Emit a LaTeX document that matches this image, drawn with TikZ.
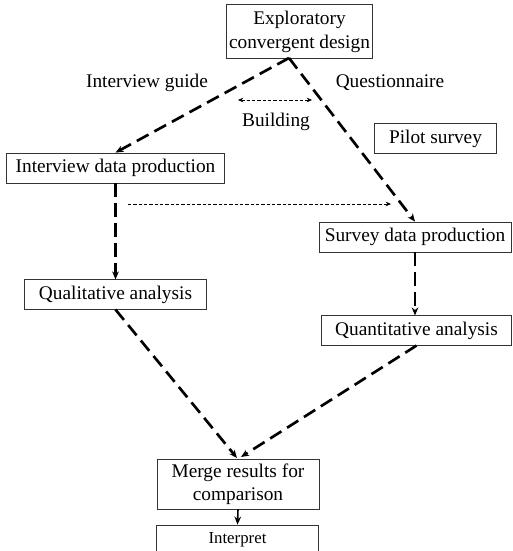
\documentclass[tikz,border=0pt]{standalone}
\usepackage{fontspec}
\setmainfont{Liberation Serif}
\usetikzlibrary{arrows.meta}

\tikzset{
  box/.style={draw=black!80,line width=0.6pt,align=center,inner sep=2pt},
  flow/.style={line width=2pt,dash pattern=on 10pt off 5pt,-{Stealth[length=6pt,width=5pt]}},
  link/.style={line width=0.6pt,dash pattern=on 2.5pt off 1.5pt},
}

\begin{document}
\begin{tikzpicture}[x=0.75pt,y=-0.75pt]
\useasboundingbox (0,0) rectangle (513,551);
\begin{scope}[every node/.style={box,font=\fontsize{14.5}{18}\selectfont}]
    \node (explore) at (299.5,31.5) [minimum width=110pt,minimum height=40pt] {Exploratory\\convergent design};
    \node (pilot) at (435.5,138.5) [minimum width=92pt,minimum height=22pt] {Pilot survey};
    \node (interview) at (115.5,168) [minimum width=163pt,minimum height=22.5pt] {Interview data production};
    \node (survey) at (415,237) [minimum width=144pt,minimum height=22.5pt] {Survey data production};
    \node (quali) at (115.5,294.5) [minimum width=136pt,minimum height=22pt] {Qualitative analysis};
    \node (quanti) at (416.5,330.5) [minimum width=143pt,minimum height=22pt] {Quantitative analysis};
    \node (merge) at (238,484) [minimum width=121.5pt,minimum height=37.5pt,font=\fontsize{14.5}{17}\selectfont] {Merge results for\\comparison};
    \node (interpret) at (237.5,540) [minimum width=121pt,minimum height=22.5pt,font=\fontsize{12.6}{15}\selectfont] {Interpret};
\end{scope}

% labels
\begin{scope}[every node/.style={font=\fontsize{14.5}{18}\selectfont}]
    \node (guide) at (147,83) {Interview guide};
    \node (quest) at (390,83) {Questionnaire};
    \node (build) at (276,122) {Building};
\end{scope}

\coordinate (apex) at (289,58);
\coordinate (bl) at (238,100);
\coordinate (br) at (312,100);
\coordinate (sl) at (128,204);
\coordinate (sr) at (391,204);
\coordinate (mleft) at (237,458);
\coordinate (mright) at (241,457);

\path [flow] (apex) edge (interview.north);
\path [flow] (apex) edge (survey.north);
\path [flow] (interview.south) edge (quali.north);
\path [flow] (survey.south) edge (survey.south |- quanti.north);
\path [flow] (quali.south) edge (mleft);
\path [flow] (quanti.south) edge (mright);
\draw [line width=1.2pt,-{Stealth[length=6pt,width=5pt]}] (merge.south) -- (interpret.north);

\draw [link,{Stealth[length=4pt,width=3.5pt]}-{Stealth[length=4pt,width=3.5pt]}] (bl) -- (br);
\draw [link,-{Stealth[length=4pt,width=3.5pt]}] (sl) -- (sr);
\end{tikzpicture}
\end{document}
